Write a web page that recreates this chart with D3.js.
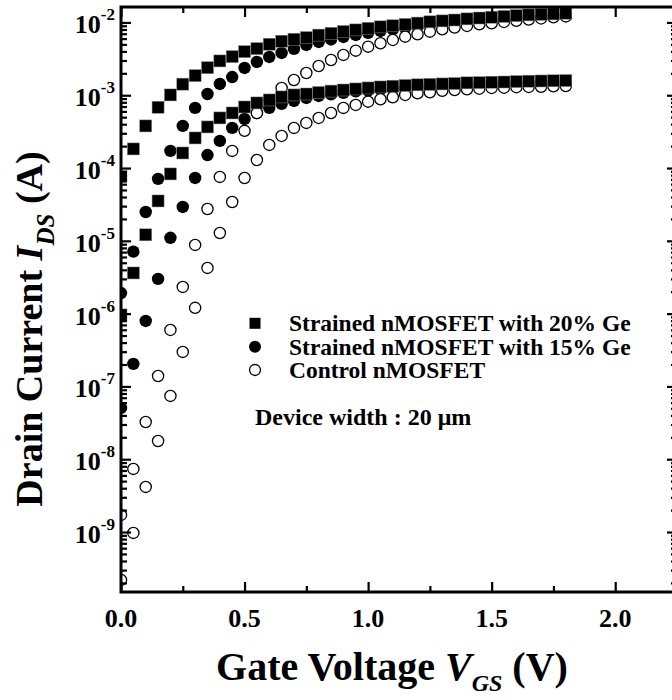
<!DOCTYPE html>
<html>
<head>
<meta charset="utf-8">
<script src="https://cdn.jsdelivr.net/npm/d3@7"></script>
<style>
  body { margin: 0; background: #fff; }
  svg { display: block; }
  text { font-family: "Liberation Serif", "Times New Roman", serif; font-weight: bold; fill: #000; }
</style>
</head>
<body>
<svg width="672" height="700"></svg>
<script>
// gate voltage (V)
const vgs = [0, 0.05, 0.1, 0.15, 0.2, 0.25, 0.3, 0.35, 0.4, 0.45, 0.5, 0.55, 0.6, 0.65, 0.7, 0.75,
  0.8, 0.85, 0.9, 0.95, 1.0, 1.05, 1.1, 1.15, 1.2, 1.25, 1.3, 1.35, 1.4, 1.45, 1.5, 1.55,
  1.6, 1.65, 1.7, 1.75, 1.8];

// drain current (A)
const ge20High = [7.6e-5, 1.83e-4, 3.79e-4, 6.84e-4, 1.01e-3, 1.42e-3, 1.86e-3, 2.39e-3, 2.96e-3, 3.39e-3,
  3.97e-3, 4.37e-3, 5.02e-3, 5.52e-3, 5.88e-3, 6.2e-3, 6.7e-3, 7.1e-3, 7.5e-3, 7.9e-3, 8.3e-3, 8.7e-3,
  9.0e-3, 9.4e-3, 9.8e-3, 1.02e-2, 1.05e-2, 1.08e-2, 1.12e-2, 1.15e-2, 1.18e-2, 1.21e-2, 1.24e-2,
  1.27e-2, 1.29e-2, 1.31e-2, 1.34e-2];
const ge20Low = [9.6e-7, 3.62e-6, 1.21e-5, 3.53e-5, 8.3e-5, 1.61e-4, 2.59e-4, 3.67e-4, 4.88e-4, 5.71e-4,
  6.9e-4, 7.84e-4, 8.62e-4, 9.48e-4, 1.01e-3, 1.04e-3, 1.09e-3, 1.14e-3, 1.18e-3, 1.22e-3, 1.26e-3,
  1.30e-3, 1.33e-3, 1.36e-3, 1.39e-3, 1.41e-3, 1.43e-3, 1.45e-3, 1.48e-3, 1.49e-3, 1.51e-3, 1.52e-3,
  1.54e-3, 1.56e-3, 1.57e-3, 1.58e-3, 1.59e-3];
const ge15High = [1.92e-6, 7.1e-6, 2.49e-5, 7.1e-5, 1.72e-4, 3.79e-4, 6.7e-4, 1.04e-3, 1.43e-3, 1.78e-3,
  2.37e-3, 2.87e-3, 3.36e-3, 3.81e-3, 4.33e-3, 4.91e-3, 5.40e-3, 5.84e-3, 6.32e-3, 6.73e-3, 7.18e-3,
  7.64e-3, 8.01e-3, 8.4e-3, 8.81e-3, 9.18e-3, 9.53e-3, 9.84e-3, 1.016e-2, 1.05e-2, 1.08e-2, 1.12e-2,
  1.15e-2, 1.18e-2, 1.21e-2, 1.24e-2, 1.27e-2];
const ge15Low = [5.07e-8, 2.04e-7, 7.94e-7, 3.0e-6, 1.10e-5, 2.92e-5, 7.3e-5, 1.51e-4, 2.36e-4, 3.56e-4,
  4.72e-4, 5.71e-4, 6.7e-4, 7.6e-4, 8.35e-4, 9.18e-4, 9.78e-4, 1.03e-3, 1.08e-3, 1.13e-3, 1.16e-3,
  1.20e-3, 1.24e-3, 1.27e-3, 1.30e-3, 1.33e-3, 1.36e-3, 1.38e-3, 1.40e-3, 1.42e-3, 1.43e-3, 1.44e-3,
  1.46e-3, 1.47e-3, 1.48e-3, 1.49e-3, 1.50e-3];
const ctrlHigh = [1.72e-9, 7.36e-9, 3.25e-8, 1.39e-7, 5.97e-7, 2.33e-6, 8.8e-6, 2.74e-5, 7.55e-5, 1.72e-4,
  3.24e-4, 5.71e-4, 8.62e-4, 1.26e-3, 1.62e-3, 2.02e-3, 2.52e-3, 3.05e-3, 3.58e-3, 4.1e-3, 4.65e-3,
  5.18e-3, 5.75e-3, 6.38e-3, 6.89e-3, 7.48e-3, 8.07e-3, 8.49e-3, 8.95e-3, 9.45e-3, 9.75e-3, 1.016e-2,
  1.055e-2, 1.096e-2, 1.135e-2, 1.175e-2, 1.21e-2];
const ctrlLow = [2.2e-10, 9.72e-10, 4.17e-9, 1.78e-8, 7.41e-8, 2.98e-7, 1.20e-6, 4.25e-6, 1.28e-5, 3.42e-5,
  7.3e-5, 1.29e-4, 2.08e-4, 2.76e-4, 3.56e-4, 4.17e-4, 4.88e-4, 5.71e-4, 6.7e-4, 7.36e-4, 8.17e-4,
  8.81e-4, 9.39e-4, 1.01e-3, 1.065e-3, 1.10e-3, 1.15e-3, 1.18e-3, 1.21e-3, 1.23e-3, 1.26e-3, 1.27e-3,
  1.29e-3, 1.30e-3, 1.31e-3, 1.33e-3, 1.34e-3];

const xMajor = [0, 0.5, 1.0, 1.5, 2.0];
const xMinor = [0.25, 0.75, 1.25, 1.75];
const yExponents = [-9, -8, -7, -6, -5, -4, -3, -2];
const legendLabels = ['Strained nMOSFET with 20% Ge', 'Strained nMOSFET with 15% Ge', 'Control nMOSFET'];

const svg = d3.select('svg');
const x = d3.scaleLinear().domain([0, 2.25]).range([121, 677]);
const y = d3.scaleLog().domain([1.5e-10, 1.63e-2]).range([592, 7]);
const [x0, x1] = x.range();
const [y0, y1] = y.range();

svg.append('defs').append('clipPath').attr('id', 'plot')
  .append('rect').attr('x', x0).attr('y', y1).attr('width', x1 - x0).attr('height', y0 - y1);

const marks = svg.append('g').attr('clip-path', 'url(#plot)');
const r = 6.2, sq = 12;

function circles(vals, filled) {
  marks.append('g').selectAll('circle')
    .data(vals.map((v, i) => [vgs[i], v]))
    .join('circle')
    .attr('cx', d => x(d[0]))
    .attr('cy', d => y(d[1]))
    .attr('r', filled ? r : r - 0.6)
    .attr('fill', filled ? '#000' : '#fff')
    .attr('stroke', '#000')
    .attr('stroke-width', filled ? 0 : 1.3);
}
function squares(vals) {
  marks.append('g').selectAll('rect')
    .data(vals.map((v, i) => [vgs[i], v]))
    .join('rect')
    .attr('x', d => x(d[0]) - sq / 2)
    .attr('y', d => y(d[1]) - sq / 2)
    .attr('width', sq).attr('height', sq)
    .attr('fill', '#000')
    .attr('stroke', '#888').attr('stroke-width', 0.5);
}

circles(ge15Low, true);
circles(ge15High, true);
circles(ctrlLow, false);
circles(ctrlHigh, false);
squares(ge20Low);
squares(ge20High);

// ticks, all pointing inward
const yMinor = [];
for (let e = -10; e <= -2; e++) for (let k = 2; k <= 9; k++) {
  const v = k * Math.pow(10, e);
  if (v > y.domain()[0] && v < y.domain()[1]) yMinor.push(v);
}
const yMajor = yExponents.map(e => Math.pow(10, e));

const tickG = svg.append('g').attr('stroke', '#000').attr('stroke-width', 2.2);
function ticks(axis, vals, len, transform) {
  const g = tickG.append('g').attr('transform', transform)
    .call(axis.tickValues(vals).tickSizeInner(-len).tickSizeOuter(0).tickFormat(''));
  g.select('.domain').remove();
  g.selectAll('line').attr('stroke-width', 2.2);
}
ticks(d3.axisBottom(x), xMajor, 10, `translate(0,${y0})`);
ticks(d3.axisBottom(x), xMinor, 6, `translate(0,${y0})`);
ticks(d3.axisTop(x), xMajor, 10, `translate(0,${y1})`);
ticks(d3.axisTop(x), xMinor, 6, `translate(0,${y1})`);
ticks(d3.axisLeft(y), yMajor, 10, `translate(${x0},0)`);
ticks(d3.axisLeft(y), yMinor, 6, `translate(${x0},0)`);
ticks(d3.axisRight(y), yMajor, 10, `translate(${x1},0)`);
ticks(d3.axisRight(y), yMinor, 6, `translate(${x1},0)`);

svg.append('rect')
  .attr('x', x0).attr('y', y1).attr('width', x1 - x0).attr('height', y0 - y1)
  .attr('fill', 'none').attr('stroke', '#000').attr('stroke-width', 3);

// tick labels
svg.append('g').selectAll('text')
  .data(xMajor)
  .join('text')
  .attr('x', d => x(d))
  .attr('y', 627)
  .attr('text-anchor', 'middle')
  .attr('font-size', 26)
  .text(d => d.toFixed(1));

const yl = svg.append('g').selectAll('text')
  .data(yExponents)
  .join('text')
  .attr('x', 115)
  .attr('y', e => y(Math.pow(10, e)) + 11)
  .attr('text-anchor', 'end')
  .attr('font-size', 26);
yl.append('tspan').text('10');
yl.append('tspan').attr('dy', -13).attr('font-size', 17).text(e => String(e));

// axis titles
const xt = svg.append('text')
  .attr('x', 392).attr('y', 680)
  .attr('text-anchor', 'middle')
  .attr('font-size', 40);
xt.append('tspan').text('Gate Voltage ');
xt.append('tspan').attr('font-style', 'italic').text('V');
xt.append('tspan').attr('font-style', 'italic').attr('font-size', 24).attr('dy', 11).text('GS');
xt.append('tspan').attr('dy', -11).text(' (V)');

const ytl = svg.append('text')
  .attr('transform', 'translate(42,329) rotate(-90)')
  .attr('text-anchor', 'middle')
  .attr('font-size', 38);
ytl.append('tspan').text('Drain Current ');
ytl.append('tspan').attr('font-style', 'italic').text('I');
ytl.append('tspan').attr('font-style', 'italic').attr('font-size', 25).attr('dy', 12).text('DS');
ytl.append('tspan').attr('dy', -12).text(' (A)');

// legend
const legendY = [323.3, 346.7, 370];
const lg = svg.append('g');
lg.append('rect').attr('x', 255 - 5.5).attr('y', legendY[0] - 5.5).attr('width', 11).attr('height', 11).attr('fill', '#000');
lg.append('circle').attr('cx', 255).attr('cy', legendY[1]).attr('r', 6).attr('fill', '#000');
lg.append('circle').attr('cx', 255).attr('cy', legendY[2]).attr('r', 5.5)
  .attr('fill', '#fff').attr('stroke', '#000').attr('stroke-width', 1.3);
lg.selectAll('text.lab')
  .data(legendLabels)
  .join('text')
  .attr('class', 'lab')
  .attr('x', 289)
  .attr('y', (d, i) => legendY[i] + 8)
  .attr('font-size', 23.5)
  .text(d => d);
lg.append('text').attr('x', 255).attr('y', 425).attr('font-size', 24).text('Device width : 20 \u03bcm');
</script>
</body>
</html>
